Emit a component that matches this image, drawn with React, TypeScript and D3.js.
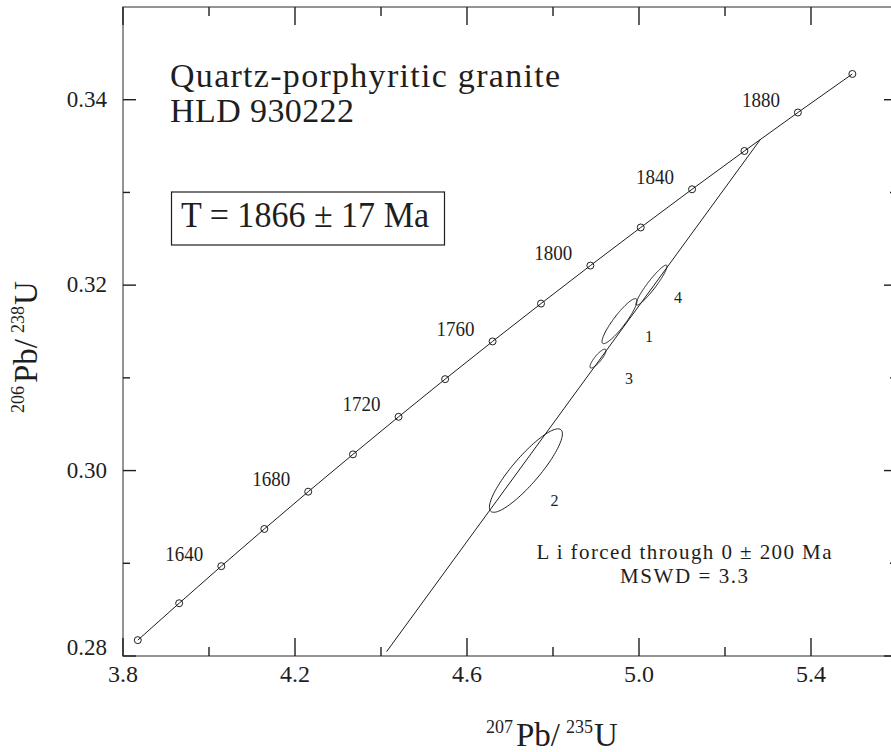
import React from "react";
import * as d3 from "d3";

// ---- Data ----
const concordiaAges = [1600, 1620, 1640, 1660, 1680, 1700, 1720, 1740, 1760, 1780, 1800, 1820, 1840, 1860, 1880, 1900];
const concordiaX = [3.8344, 3.9306, 4.0286, 4.1287, 4.2307, 4.3348, 4.4409, 4.5491, 4.6595, 4.7721, 4.8869, 5.004, 5.1234, 5.2452, 5.3695, 5.4962];
const concordiaY = [0.28171, 0.28569, 0.28969, 0.2937, 0.29772, 0.30175, 0.3058, 0.30986, 0.31393, 0.31801, 0.32211, 0.32622, 0.33034, 0.33447, 0.33862, 0.34278];
const labeledAges = [1640, 1680, 1720, 1760, 1800, 1840, 1880];

const discordiaX = [4.413, 5.2822];
const discordiaY = [0.28047, 0.33571];

const spotLabels = ["1", "2", "3", "4"];
const spotX = [4.9547, 4.7370, 4.9047, 5.0291];
const spotSX = [0.0407, 0.0849, 0.0186, 0.036];
const spotY = [0.31612, 0.3000, 0.31208, 0.32];
const spotSY = [0.00243, 0.0045, 0.00102, 0.00216];
const spotRho = [0.905, 0.88, 0.85, 0.94];

const xMajorTicks = [3.8, 4.2, 4.6, 5.0, 5.4];
const xMinorTicks = [4.0, 4.4, 4.8, 5.2];
const yMajorTicks = [0.28, 0.3, 0.32, 0.34];
const yMinorTicks = [0.29, 0.31, 0.33];

const titleLines = ["Quartz-porphyritic granite", "HLD 930222"];
const ageResult = "T = 1866 \u00B1 17 Ma";
const fitNotes = ["L i forced through 0 \u00B1 200 Ma", "MSWD = 3.3"];

// ---- Layout ----
const W = 891;
const H = 752;
const left = 123;
const right = 897;
const top = 7;
const bottom = 656;
const FONT = '"Times New Roman", Tinos, Times, serif';
const INK = "#1e1e1e";
const spotLabelOffsets = [
  [29.5, 20.5],
  [28.5, 35.5],
  [31, 25],
  [26.5, 17.5],
];

export default function App() {
  const x = d3.scaleLinear().domain([3.8, 5.6]).range([left, right]);
  const y = d3.scaleLinear().domain([0.28, 0.35]).range([bottom, top]);

  const concordiaPts = concordiaX.map((v, i) => [x(v), y(concordiaY[i])] as [number, number]);
  const lineGen = d3.line<[number, number]>().x((d) => d[0]).y((d) => d[1]);
  const closedGen = d3.line<[number, number]>().x((d) => d[0]).y((d) => d[1]).curve(d3.curveLinearClosed);

  const ellipsePath = (i: number) => {
    const pts: [number, number][] = [];
    const n = 120;
    const r = spotRho[i];
    for (let k = 0; k < n; k++) {
      const t = (2 * Math.PI * k) / n;
      const dx = spotSX[i] * Math.cos(t);
      const dy = spotSY[i] * (r * Math.cos(t) + Math.sqrt(1 - r * r) * Math.sin(t));
      pts.push([x(spotX[i] + dx), y(spotY[i] + dy)]);
    }
    return closedGen(pts) || "";
  };

  const ageIndex = (a: number) => concordiaAges.indexOf(a);
  const tStyle = { fontFamily: FONT } as React.CSSProperties;

  return (
    <svg
      width={W}
      height={H}
      style={{ position: "absolute", left: 0, top: 0, background: "#fff", fontFamily: FONT }}
    >
      <rect x={0} y={0} width={W} height={H} fill="#fff" />
      {/* frame */}
      <rect x={left} y={top} width={right - left} height={bottom - top} fill="none" stroke="#7a7a7a" strokeWidth={1.6} />

      {/* x ticks */}
      {xMajorTicks.map((t) => (
        <g key={"xM" + t}>
          <line x1={x(t)} x2={x(t)} y1={bottom} y2={bottom - 18} stroke={INK} strokeWidth={1.4} />
          <line x1={x(t)} x2={x(t)} y1={top} y2={top + 18} stroke={INK} strokeWidth={1.4} />
          <text style={tStyle} x={x(t)} y={bottom + 26} textAnchor="middle" fontSize={24} fill={INK}>
            {t.toFixed(1)}
          </text>
        </g>
      ))}
      {xMinorTicks.map((t) => (
        <g key={"xm" + t}>
          <line x1={x(t)} x2={x(t)} y1={bottom} y2={bottom - 9} stroke={INK} strokeWidth={1.4} />
          <line x1={x(t)} x2={x(t)} y1={top} y2={top + 9} stroke={INK} strokeWidth={1.4} />
        </g>
      ))}

      {/* y ticks */}
      {yMajorTicks.map((t, i) => (
        <g key={"yM" + t}>
          <line x1={left} x2={left + 13} y1={y(t)} y2={y(t)} stroke={INK} strokeWidth={1.4} />
          <line x1={right} x2={right - 13} y1={y(t)} y2={y(t)} stroke={INK} strokeWidth={1.4} />
          <text style={tStyle} x={107} y={y(t) + (i === 0 ? -1 : 7)} textAnchor="end" fontSize={23} fill={INK}>
            {t.toFixed(2)}
          </text>
        </g>
      ))}
      {yMinorTicks.map((t) => (
        <g key={"ym" + t}>
          <line x1={left} x2={left + 7} y1={y(t)} y2={y(t)} stroke={INK} strokeWidth={1.4} />
          <line x1={right} x2={right - 7} y1={y(t)} y2={y(t)} stroke={INK} strokeWidth={1.4} />
        </g>
      ))}

      {/* concordia */}
      <path d={lineGen(concordiaPts) || ""} fill="none" stroke={INK} strokeWidth={1} />
      {concordiaPts.map((p, i) => (
        <circle key={"c" + i} cx={p[0]} cy={p[1]} r={3.5} fill="none" stroke={INK} strokeWidth={1} />
      ))}
      {labeledAges.map((a) => {
        const i = ageIndex(a);
        return (
          <text
            key={"a" + a}
            style={tStyle}
            x={x(concordiaX[i]) - 37}
            y={y(concordiaY[i]) - 5.5}
            textAnchor="middle"
            fontSize={21}
            textLength={38}
            lengthAdjust="spacingAndGlyphs"
            fill={INK}
          >
            {a}
          </text>
        );
      })}

      {/* discordia */}
      <line
        x1={x(discordiaX[0])}
        y1={y(discordiaY[0])}
        x2={x(discordiaX[1])}
        y2={y(discordiaY[1])}
        stroke={INK}
        strokeWidth={1}
      />

      {/* error ellipses */}
      {spotLabels.map((lab, i) => (
        <g key={"e" + lab}>
          <path d={ellipsePath(i)} fill="none" stroke={INK} strokeWidth={1} />
          <text
            style={tStyle}
            x={x(spotX[i]) + spotLabelOffsets[i][0]}
            y={y(spotY[i]) + spotLabelOffsets[i][1]}
            textAnchor="middle"
            fontSize={16}
            fill={INK}
          >
            {lab}
          </text>
        </g>
      ))}

      {/* title */}
      <text style={tStyle} x={170} y={87} fontSize={34} fill={INK} textLength={390} lengthAdjust="spacing">
        {titleLines[0]}
      </text>
      <text style={tStyle} x={170} y={122} fontSize={34} fill={INK} textLength={184} lengthAdjust="spacing">
        {titleLines[1]}
      </text>

      {/* age box */}
      <rect x={171.5} y={192} width={273} height={53} fill="none" stroke={INK} strokeWidth={1.2} />
      <text style={tStyle} x={181} y={227} fontSize={36} fill={INK} textLength={248} lengthAdjust="spacingAndGlyphs">
        {ageResult}
      </text>

      {/* fit notes */}
      <text style={tStyle} x={684} y={559} textAnchor="middle" fontSize={21} fill={INK} textLength={295} lengthAdjust="spacing">
        {fitNotes[0]}
      </text>
      <text style={tStyle} x={684} y={583} textAnchor="middle" fontSize={21} fill={INK} textLength={128} lengthAdjust="spacing">
        {fitNotes[1]}
      </text>

      {/* x axis title */}
      <text style={tStyle} x={486} y={746} fill={INK}>
        <tspan fontSize={18} dy={-13}>207</tspan>
        <tspan fontSize={33} dy={13} dx={3}>Pb/</tspan>
        <tspan fontSize={18} dy={-13} dx={6}>235</tspan>
        <tspan fontSize={33} dy={13} dx={1}>U</tspan>
      </text>

      {/* y axis title */}
      <text style={tStyle} transform="translate(37,413) rotate(-90)" x={0} y={0} fill={INK}>
        <tspan fontSize={18} dy={-13}>206</tspan>
        <tspan fontSize={33} dy={13} dx={3}>Pb/</tspan>
        <tspan fontSize={18} dy={-13} dx={6}>238</tspan>
        <tspan fontSize={33} dy={13} dx={1}>U</tspan>
      </text>
    </svg>
  );
}
